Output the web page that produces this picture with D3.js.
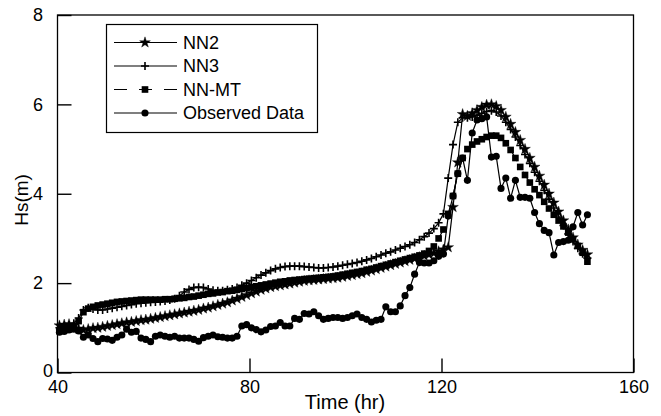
<!DOCTYPE html>
<html><head><meta charset="utf-8">
<script src="https://cdn.jsdelivr.net/npm/d3@7"></script>
<style>body{margin:0;background:#fff}svg{display:block;font-family:"Liberation Sans",Arial,sans-serif}</style>
</head><body><svg id="c" width="661" height="416"></svg>
<script>
// hourly samples starting at this hour
const startHour = 40.4;
const observed = [0.90,0.92,0.95,0.97,0.93,0.79,0.84,0.76,0.69,0.76,
 0.75,0.72,0.79,0.84,0.97,0.90,0.92,0.77,0.74,0.69,
 0.81,0.84,0.81,0.79,0.81,0.77,0.77,0.77,0.74,0.70,
 0.78,0.81,0.84,0.80,0.79,0.77,0.77,0.81,1.04,1.07,
 1.00,0.96,0.91,0.95,1.03,1.04,1.12,1.04,1.04,1.21,
 1.19,1.32,1.31,1.36,1.27,1.19,1.21,1.23,1.23,1.21,
 1.23,1.27,1.31,1.23,1.19,1.13,1.17,1.19,1.47,1.36,
 1.36,1.49,1.72,1.90,2.20,2.46,2.45,2.45,2.50,2.60,
 2.65,3.50,3.95,4.45,4.80,4.30,5.36,5.65,5.68,5.72,
 4.82,4.84,4.12,4.35,3.90,4.30,3.92,3.92,3.90,3.58,
 3.33,3.18,3.13,2.63,2.91,2.93,2.96,3.26,3.58,3.30,
 3.53];
const nn2 = [1.05,1.07,1.08,1.05,0.98,0.95,0.97,0.99,1.00,1.02,
 1.04,1.06,1.08,1.10,1.12,1.13,1.15,1.17,1.18,1.20,
 1.22,1.24,1.26,1.28,1.30,1.32,1.34,1.36,1.38,1.40,
 1.43,1.45,1.48,1.51,1.54,1.57,1.61,1.65,1.69,1.73,
 1.77,1.81,1.85,1.88,1.91,1.93,1.95,1.97,1.99,2.01,
 2.03,2.05,2.06,2.07,2.08,2.09,2.10,2.11,2.12,2.14,
 2.16,2.18,2.20,2.22,2.25,2.28,2.31,2.34,2.37,2.40,
 2.43,2.46,2.49,2.52,2.55,2.58,2.61,2.64,2.67,2.71,
 2.75,2.80,3.70,4.70,5.78,5.74,5.80,5.87,5.94,5.99,
 6.00,5.96,5.87,5.72,5.56,5.38,5.20,5.00,4.80,4.60,
 4.40,4.20,4.00,3.80,3.60,3.40,3.20,3.02,2.86,2.74,
 2.64];
const nn3 = [1.00,1.02,1.05,1.10,1.22,1.40,1.45,1.42,1.40,1.40,
 1.42,1.44,1.46,1.48,1.50,1.52,1.54,1.55,1.56,1.57,
 1.58,1.59,1.60,1.62,1.65,1.72,1.80,1.86,1.90,1.91,
 1.90,1.87,1.84,1.83,1.83,1.85,1.87,1.90,1.95,2.00,
 2.06,2.12,2.18,2.23,2.28,2.32,2.35,2.37,2.38,2.38,
 2.38,2.37,2.36,2.35,2.34,2.34,2.35,2.36,2.38,2.40,
 2.42,2.44,2.46,2.49,2.52,2.55,2.59,2.63,2.67,2.70,
 2.74,2.78,2.82,2.86,2.91,2.97,3.04,3.12,3.22,3.35,
 3.55,4.35,5.10,5.60,5.70,5.70,5.72,5.76,5.80,5.84,
 5.86,5.83,5.74,5.60,5.44,5.27,5.08,4.88,4.68,4.48,
 4.28,4.08,3.88,3.68,3.48,3.29,3.10,2.93,2.78,2.66,
 2.56];
const nnmt = [0.93,0.95,0.97,1.00,1.15,1.35,1.43,1.47,1.50,1.52,
 1.54,1.56,1.58,1.59,1.60,1.61,1.62,1.63,1.63,1.63,
 1.63,1.63,1.64,1.64,1.65,1.66,1.67,1.69,1.70,1.72,
 1.74,1.76,1.77,1.79,1.80,1.82,1.83,1.85,1.87,1.89,
 1.91,1.93,1.95,1.97,1.99,2.01,2.03,2.04,2.06,2.07,
 2.08,2.09,2.10,2.11,2.12,2.13,2.14,2.15,2.17,2.19,
 2.21,2.23,2.25,2.27,2.30,2.32,2.35,2.38,2.41,2.44,
 2.47,2.50,2.53,2.56,2.59,2.62,2.66,2.72,2.82,3.00,
 3.20,3.55,3.95,4.45,4.80,5.00,5.10,5.17,5.22,5.27,
 5.30,5.30,5.25,5.13,4.98,4.80,4.60,4.42,4.25,4.10,
 3.97,3.82,3.67,3.53,3.40,3.27,3.13,2.98,2.83,2.68,
 2.48];
const xTicks = [40, 80, 120, 160];
const yTicks = [0, 2, 4, 6, 8];
const seriesNames = ["NN2", "NN3", "NN-MT", "Observed Data"];

const times = observed.map((_, i) => startHour + i);
const W = 661, H = 416, m = {l: 57.5, t: 15, r: 27.5, b: 43.5};
const svg = d3.select("#c");
const x = d3.scaleLinear().domain([40, 160]).range([m.l, W - m.r]);
const y = d3.scaleLinear().domain([0, 8]).range([H - m.b, m.t]);

// markers
const starPath = d3.symbol(d3.symbolStar, 36)();
const plusPath = "M-4,0H4M0,-4V4";
const squarePath = d3.symbol(d3.symbolSquare, 44)();
const circlePath = d3.symbol(d3.symbolCircle, 40)();
const styles = [
  {vals: nn2, marker: starPath, fill: "#000", stroke: "#000", sw: 0.4, dash: null},
  {vals: nn3, marker: plusPath, fill: "none", stroke: "#000", sw: 1.6, dash: null},
  {vals: nnmt, marker: squarePath, fill: "#000", stroke: "none", sw: 0, dash: "13,12"},
  {vals: observed, marker: circlePath, fill: "#000", stroke: "none", sw: 0, dash: null}
];

const line = d3.line().x((d, i) => x(times[i])).y(d => y(d));
styles.forEach(s => {
  const g = svg.append("g");
  g.append("path").attr("d", line(s.vals)).attr("fill", "none")
    .attr("stroke", "#000").attr("stroke-width", 1.2)
    .attr("stroke-dasharray", s.dash);
  g.selectAll("path.m").data(s.vals).enter().append("path").attr("class", "m")
    .attr("transform", (d, i) => `translate(${x(times[i])},${y(d)})`)
    .attr("d", s.marker).attr("fill", s.fill).attr("stroke", s.stroke)
    .attr("stroke-width", s.sw);
});

// frame
svg.append("rect").attr("x", m.l).attr("y", m.t)
  .attr("width", W - m.l - m.r).attr("height", H - m.t - m.b)
  .attr("fill", "none").attr("stroke", "#000").attr("stroke-width", 1.3);

// axes
const xa = svg.append("g").attr("transform", `translate(0,${H - m.b})`)
  .call(d3.axisBottom(x).tickValues(xTicks).tickFormat(d3.format("d"))
    .tickSizeInner(-14).tickSizeOuter(0).tickPadding(8));
const ya = svg.append("g").attr("transform", `translate(${m.l},0)`)
  .call(d3.axisLeft(y).tickValues(yTicks).tickFormat(d3.format("d"))
    .tickSizeInner(-14).tickSizeOuter(0).tickPadding(14.5));
[xa, ya].forEach(a => {
  a.select(".domain").remove();
  a.selectAll("line").attr("stroke", "#000").attr("stroke-width", 1.4);
  a.selectAll("text").attr("font-size", 18).attr("fill", "#000")
    .attr("font-family", '"Liberation Sans",Arial,sans-serif');
});
ya.selectAll(".tick").filter(d => d === 0).select("text").attr("x", -4.5).attr("dy", "0.2em");

svg.append("text").attr("x", 345).attr("y", 409).attr("text-anchor", "middle")
  .attr("font-size", 20).text("Time (hr)");
svg.append("text").attr("transform", "translate(28,200) rotate(-90)")
  .attr("text-anchor", "middle").attr("font-size", 19).text("Hs(m)");

// legend
const lg = svg.append("g");
lg.append("rect").attr("x", 106.5).attr("y", 24.5).attr("width", 211).attr("height", 108)
  .attr("fill", "#fff").attr("stroke", "#000").attr("stroke-width", 1.2);
const rowY = d3.scalePoint().domain(seriesNames).range([42.5, 113]);
seriesNames.forEach((n, k) => {
  const s = styles[k], yy = rowY(n);
  lg.append("line").attr("x1", 114).attr("x2", 177).attr("y1", yy).attr("y2", yy)
    .attr("stroke", "#000").attr("stroke-width", 1.2).attr("stroke-dasharray", s.dash);
  lg.append("path").attr("transform", `translate(145,${yy})`).attr("d", s.marker)
    .attr("fill", s.fill).attr("stroke", s.stroke).attr("stroke-width", s.sw);
  lg.append("text").attr("x", 183).attr("y", yy).attr("dy", "0.35em")
    .attr("font-size", 18).text(n);
});
</script></body></html>
